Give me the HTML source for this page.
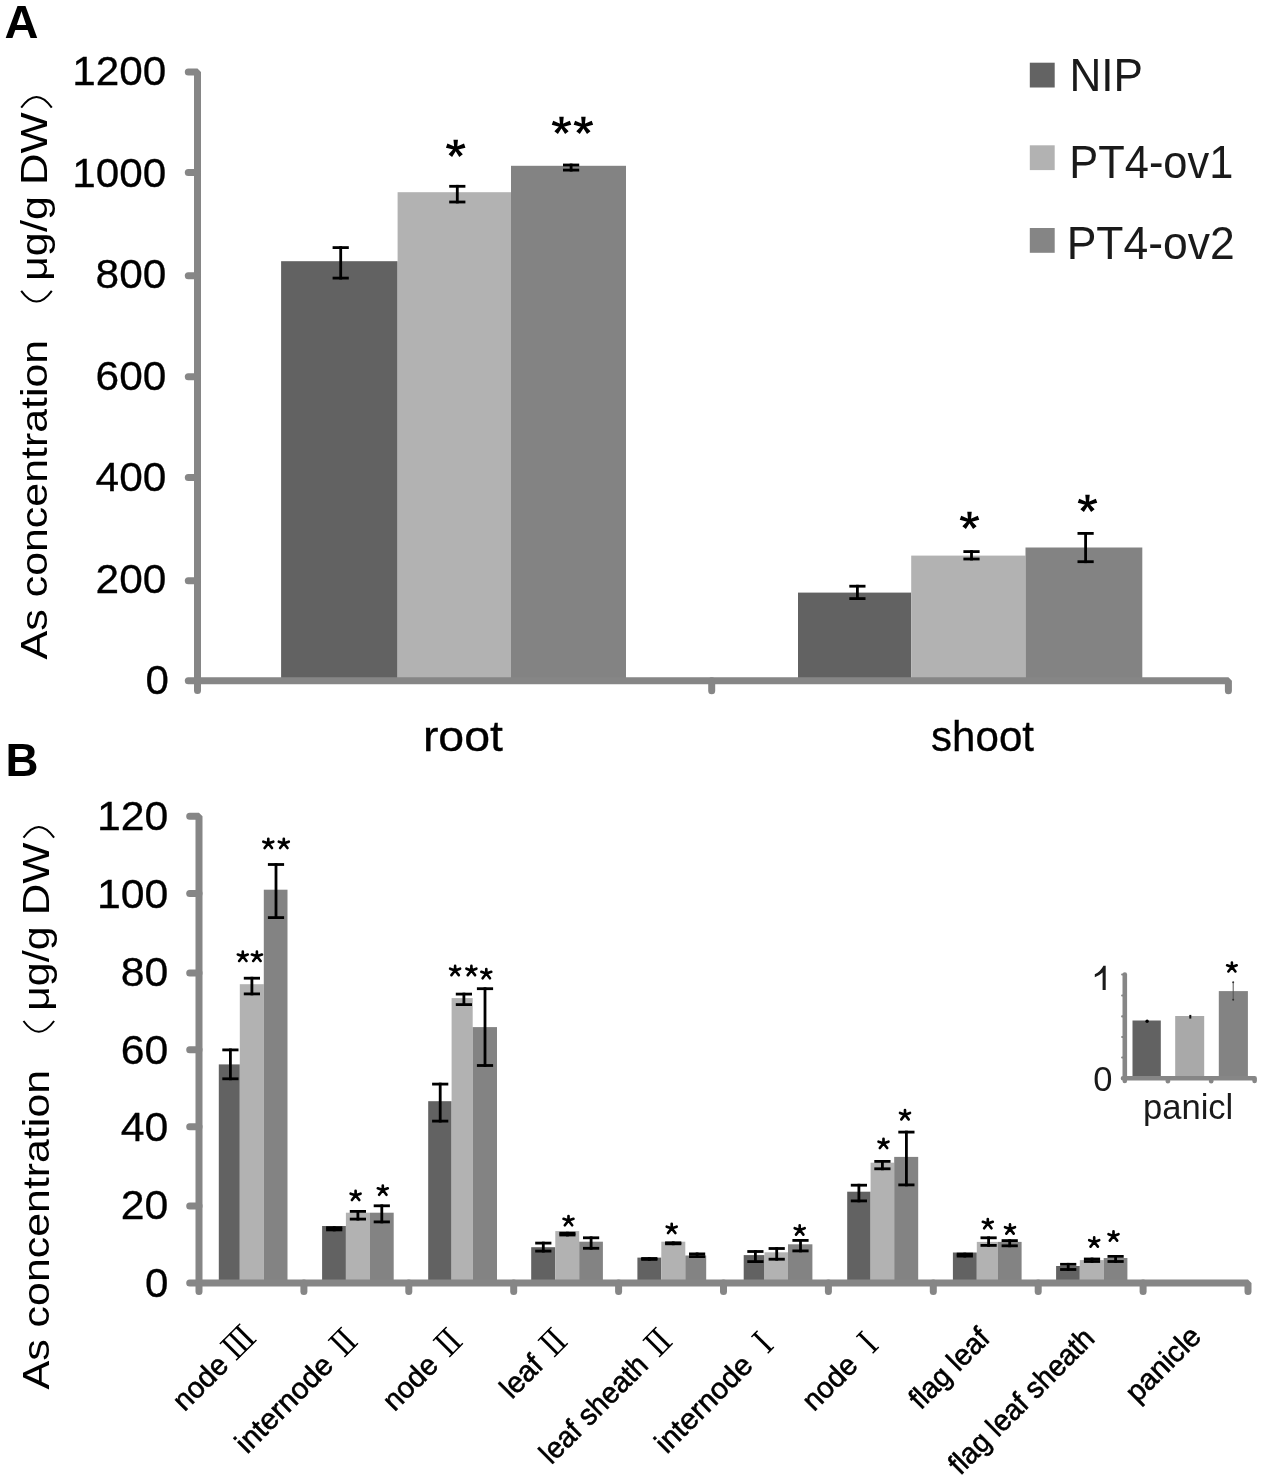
<!DOCTYPE html>
<html><head><meta charset="utf-8"><title>Figure</title>
<style>html,body{margin:0;padding:0;background:#fff}svg{display:block;filter:grayscale(1)}text{font-family:"Liberation Sans",sans-serif}</style></head><body>
<svg width="1266" height="1483" viewBox="0 0 1266 1483">
<rect width="1266" height="1483" fill="#fff"/>
<text x="4.5" y="37.9" font-size="46.5" fill="#000" textLength="34" lengthAdjust="spacingAndGlyphs" font-weight="bold">A</text>
<text x="5.5" y="776.3" font-size="46.5" fill="#000" textLength="33" lengthAdjust="spacingAndGlyphs" font-weight="bold">B</text>
<rect x="281.10" y="261.20" width="116.50" height="419.80" fill="#626262"/>
<rect x="397.60" y="192.20" width="113.40" height="488.80" fill="#b2b2b2"/>
<rect x="511.00" y="165.80" width="115.00" height="515.20" fill="#838383"/>
<rect x="798.00" y="592.60" width="113.20" height="88.40" fill="#626262"/>
<rect x="911.20" y="555.60" width="114.30" height="125.40" fill="#b2b2b2"/>
<rect x="1025.50" y="547.50" width="116.80" height="133.50" fill="#838383"/>
<g stroke="#868686" stroke-width="7" fill="none" stroke-linecap="round" stroke-linejoin="bevel">
<path d="M188.3 72 H197.5 V690.6"/>
<path d="M188.3 172.4 H197.5"/>
<path d="M188.3 275.8 H197.5"/>
<path d="M188.3 376.8 H197.5"/>
<path d="M188.3 477.5 H197.5"/>
<path d="M188.3 580.7 H197.5"/>
<path d="M188.3 680.8 H197.5"/>
<path d="M197.5 680.8 H1228.4 V690.7"/>
<path d="M711.7 680.8 V690.7"/>
</g>
<text x="166.3" y="85.4" font-size="41.3" fill="#000" text-anchor="end" textLength="94.0" lengthAdjust="spacingAndGlyphs" stroke="#000" stroke-width="0.3">1200</text>
<text x="166.3" y="186.9" font-size="41.3" fill="#000" text-anchor="end" textLength="94.0" lengthAdjust="spacingAndGlyphs" stroke="#000" stroke-width="0.3">1000</text>
<text x="166.3" y="288.4" font-size="41.3" fill="#000" text-anchor="end" textLength="70.7" lengthAdjust="spacingAndGlyphs" stroke="#000" stroke-width="0.3">800</text>
<text x="166.3" y="389.9" font-size="41.3" fill="#000" text-anchor="end" textLength="70.7" lengthAdjust="spacingAndGlyphs" stroke="#000" stroke-width="0.3">600</text>
<text x="166.3" y="491.4" font-size="41.3" fill="#000" text-anchor="end" textLength="70.7" lengthAdjust="spacingAndGlyphs" stroke="#000" stroke-width="0.3">400</text>
<text x="166.3" y="592.9" font-size="41.3" fill="#000" text-anchor="end" textLength="70.7" lengthAdjust="spacingAndGlyphs" stroke="#000" stroke-width="0.3">200</text>
<text x="169.0" y="694.4" font-size="41.3" fill="#000" text-anchor="end" textLength="23.4" lengthAdjust="spacingAndGlyphs" stroke="#000" stroke-width="0.3">0</text>
<rect x="332.60" y="246.20" width="16.20" height="2.80" fill="#000"/>
<rect x="332.60" y="276.70" width="16.20" height="2.80" fill="#000"/>
<rect x="339.30" y="246.20" width="2.80" height="33.30" fill="#000"/>
<rect x="449.20" y="184.90" width="16.20" height="2.80" fill="#000"/>
<rect x="449.20" y="200.60" width="16.20" height="2.80" fill="#000"/>
<rect x="455.90" y="184.90" width="2.80" height="18.50" fill="#000"/>
<rect x="563.00" y="163.60" width="16.20" height="2.80" fill="#000"/>
<rect x="563.00" y="168.70" width="16.20" height="2.80" fill="#000"/>
<rect x="569.70" y="163.60" width="2.80" height="7.90" fill="#000"/>
<rect x="849.30" y="584.80" width="16.20" height="2.80" fill="#000"/>
<rect x="849.30" y="597.20" width="16.20" height="2.80" fill="#000"/>
<rect x="856.00" y="584.80" width="2.80" height="15.20" fill="#000"/>
<rect x="963.40" y="550.20" width="16.20" height="2.80" fill="#000"/>
<rect x="963.40" y="557.60" width="16.20" height="2.80" fill="#000"/>
<rect x="970.10" y="550.20" width="2.80" height="10.20" fill="#000"/>
<rect x="1077.50" y="532.00" width="16.20" height="2.80" fill="#000"/>
<rect x="1077.50" y="560.30" width="16.20" height="2.80" fill="#000"/>
<rect x="1084.20" y="532.00" width="2.80" height="31.10" fill="#000"/>
<path d="M457.06 148.65L457.93 139.64L453.47 139.64L454.34 148.65ZM456.14 149.94L465.45 147.65L464.00 143.44L455.26 147.37ZM456.14 147.37L447.40 143.44L445.95 147.65L455.26 149.94ZM454.63 149.49L459.31 156.90L462.83 154.16L456.77 147.82ZM454.63 147.82L448.57 154.16L452.09 156.90L456.77 149.49Z" fill="#000"/><circle cx="455.70" cy="148.65" r="1.84" fill="#000"/>
<path d="M562.86 125.85L563.73 116.84L559.27 116.84L560.14 125.85ZM561.94 127.14L571.25 124.85L569.80 120.64L561.06 124.57ZM561.94 124.57L553.20 120.64L551.75 124.85L561.06 127.14ZM560.43 126.69L565.11 134.10L568.63 131.36L562.57 125.02ZM560.43 125.02L554.37 131.36L557.89 134.10L562.57 126.69Z" fill="#000"/><circle cx="561.50" cy="125.85" r="1.84" fill="#000"/>
<path d="M584.76 125.85L585.63 116.84L581.17 116.84L582.04 125.85ZM583.84 127.14L593.15 124.85L591.70 120.64L582.96 124.57ZM583.84 124.57L575.10 120.64L573.65 124.85L582.96 127.14ZM582.33 126.69L587.01 134.10L590.53 131.36L584.47 125.02ZM582.33 125.02L576.27 131.36L579.79 134.10L584.47 126.69Z" fill="#000"/><circle cx="583.40" cy="125.85" r="1.84" fill="#000"/>
<path d="M970.86 520.85L971.73 511.84L967.27 511.84L968.14 520.85ZM969.94 522.14L979.25 519.85L977.80 515.64L969.06 519.57ZM969.94 519.57L961.20 515.64L959.75 519.85L969.06 522.14ZM968.43 521.69L973.11 529.10L976.63 526.36L970.57 520.02ZM968.43 520.02L962.37 526.36L965.89 529.10L970.57 521.69Z" fill="#000"/><circle cx="969.50" cy="520.85" r="1.84" fill="#000"/>
<path d="M1088.86 503.85L1089.73 494.84L1085.27 494.84L1086.14 503.85ZM1087.94 505.14L1097.25 502.85L1095.80 498.64L1087.06 502.57ZM1087.94 502.57L1079.20 498.64L1077.75 502.85L1087.06 505.14ZM1086.43 504.69L1091.11 512.10L1094.63 509.36L1088.57 503.02ZM1086.43 503.02L1080.37 509.36L1083.89 512.10L1088.57 504.69Z" fill="#000"/><circle cx="1087.50" cy="503.85" r="1.84" fill="#000"/>
<text x="422.9" y="750.6" font-size="42" fill="#000" textLength="80" lengthAdjust="spacingAndGlyphs" stroke="#000" stroke-width="0.3">root</text>
<text x="931.1" y="750.6" font-size="42" fill="#000" textLength="102.9" lengthAdjust="spacingAndGlyphs" stroke="#000" stroke-width="0.3">shoot</text>
<rect x="1029.80" y="62.70" width="24.90" height="24.80" fill="#636363"/>
<text x="1069.5" y="91.0" font-size="45.3" fill="#231815" textLength="73.5" lengthAdjust="spacingAndGlyphs">NIP</text>
<rect x="1029.80" y="145.30" width="24.90" height="24.80" fill="#b2b2b2"/>
<text x="1069.3" y="177.6" font-size="45.3" fill="#231815" textLength="164" lengthAdjust="spacingAndGlyphs">PT4-ov1</text>
<rect x="1029.80" y="228.00" width="24.90" height="24.80" fill="#858585"/>
<text x="1066.7" y="259.3" font-size="45.3" fill="#231815" textLength="168" lengthAdjust="spacingAndGlyphs">PT4-ov2</text>
<text x="0" y="0" font-size="36.5" fill="#000" textLength="50.4" lengthAdjust="spacingAndGlyphs" transform="translate(46.7,659.5) rotate(-90)">As</text>
<text x="0" y="0" font-size="36.5" fill="#000" textLength="257.5" lengthAdjust="spacingAndGlyphs" transform="translate(46.7,597.3) rotate(-90)">concentration</text>
<text x="0" y="0" font-size="36.5" fill="#000" textLength="84.9" lengthAdjust="spacingAndGlyphs" transform="translate(46.7,281.0) rotate(-90)">μg/g</text>
<text x="0" y="0" font-size="36.5" fill="#000" textLength="72.7" lengthAdjust="spacingAndGlyphs" transform="translate(46.7,185.1) rotate(-90)">DW</text>
<path d="M21.2 290.9 Q36.5 312.3 51.8 290.9" stroke="#000" stroke-width="2" fill="none"/>
<path d="M21.2 107.6 Q36.5 86.2 51.8 107.6" stroke="#000" stroke-width="2" fill="none"/>
<text x="0" y="0" font-size="36.5" fill="#000" textLength="50.4" lengthAdjust="spacingAndGlyphs" transform="translate(49.0,1389.6) rotate(-90)">As</text>
<text x="0" y="0" font-size="36.5" fill="#000" textLength="257.5" lengthAdjust="spacingAndGlyphs" transform="translate(49.0,1327.4) rotate(-90)">concentration</text>
<text x="0" y="0" font-size="36.5" fill="#000" textLength="84.9" lengthAdjust="spacingAndGlyphs" transform="translate(49.0,1011.1) rotate(-90)">μg/g</text>
<text x="0" y="0" font-size="36.5" fill="#000" textLength="72.7" lengthAdjust="spacingAndGlyphs" transform="translate(49.0,915.2) rotate(-90)">DW</text>
<path d="M23.5 1021.0 Q38.8 1042.4 54.099999999999994 1021.0" stroke="#000" stroke-width="2" fill="none"/>
<path d="M23.5 837.7 Q38.8 816.3000000000001 54.099999999999994 837.7" stroke="#000" stroke-width="2" fill="none"/>
<rect x="218.80" y="1064.40" width="21.00" height="218.60" fill="#626262"/>
<rect x="239.80" y="984.20" width="24.00" height="298.80" fill="#b2b2b2"/>
<rect x="263.80" y="889.70" width="23.70" height="393.30" fill="#838383"/>
<rect x="322.10" y="1226.00" width="23.80" height="57.00" fill="#626262"/>
<rect x="345.90" y="1212.70" width="24.10" height="70.30" fill="#b2b2b2"/>
<rect x="370.00" y="1212.70" width="23.70" height="70.30" fill="#838383"/>
<rect x="428.20" y="1101.20" width="23.40" height="181.80" fill="#626262"/>
<rect x="451.60" y="998.10" width="21.10" height="284.90" fill="#b2b2b2"/>
<rect x="472.70" y="1027.10" width="24.30" height="255.90" fill="#838383"/>
<rect x="531.20" y="1247.20" width="24.10" height="35.80" fill="#626262"/>
<rect x="555.30" y="1231.10" width="23.90" height="51.90" fill="#b2b2b2"/>
<rect x="579.20" y="1241.70" width="23.70" height="41.30" fill="#838383"/>
<rect x="637.40" y="1257.60" width="23.90" height="25.40" fill="#626262"/>
<rect x="661.30" y="1241.70" width="24.00" height="41.30" fill="#b2b2b2"/>
<rect x="685.30" y="1255.50" width="20.90" height="27.50" fill="#838383"/>
<rect x="743.70" y="1255.10" width="20.80" height="27.90" fill="#626262"/>
<rect x="764.50" y="1252.30" width="23.50" height="30.70" fill="#b2b2b2"/>
<rect x="788.00" y="1244.30" width="24.40" height="38.70" fill="#838383"/>
<rect x="847.20" y="1191.70" width="23.40" height="91.30" fill="#626262"/>
<rect x="870.60" y="1162.70" width="23.60" height="120.30" fill="#b2b2b2"/>
<rect x="894.20" y="1156.90" width="24.00" height="126.10" fill="#838383"/>
<rect x="952.90" y="1252.50" width="23.90" height="30.50" fill="#626262"/>
<rect x="976.80" y="1241.90" width="21.20" height="41.10" fill="#b2b2b2"/>
<rect x="998.00" y="1241.90" width="23.60" height="41.10" fill="#838383"/>
<rect x="1056.10" y="1266.00" width="23.70" height="17.00" fill="#626262"/>
<rect x="1079.80" y="1260.10" width="23.90" height="22.90" fill="#b2b2b2"/>
<rect x="1103.70" y="1258.00" width="23.70" height="25.00" fill="#838383"/>
<g stroke="#868686" stroke-width="7" fill="none" stroke-linecap="round" stroke-linejoin="bevel">
<path d="M189.7 816.2 H199 V1291.5"/>
<path d="M189.7 893.4 H199"/>
<path d="M189.7 973.1 H199"/>
<path d="M189.7 1049.8 H199"/>
<path d="M189.7 1126.7 H199"/>
<path d="M189.7 1206.1 H199"/>
<path d="M189.7 1282.9 H199"/>
<path d="M199 1282.9 H1248 V1291.5"/>
<path d="M303.9 1282.9 V1291.5"/>
<path d="M408.8 1282.9 V1291.5"/>
<path d="M513.7 1282.9 V1291.5"/>
<path d="M618.6 1282.9 V1291.5"/>
<path d="M723.5 1282.9 V1291.5"/>
<path d="M828.4 1282.9 V1291.5"/>
<path d="M933.3 1282.9 V1291.5"/>
<path d="M1038.2 1282.9 V1291.5"/>
<path d="M1143.1 1282.9 V1291.5"/>
</g>
<text x="168.3" y="830.3" font-size="41.3" fill="#000" text-anchor="end" textLength="71.4" lengthAdjust="spacingAndGlyphs" stroke="#000" stroke-width="0.3">120</text>
<text x="168.3" y="908.05" font-size="41.3" fill="#000" text-anchor="end" textLength="71.4" lengthAdjust="spacingAndGlyphs" stroke="#000" stroke-width="0.3">100</text>
<text x="168.3" y="985.8" font-size="41.3" fill="#000" text-anchor="end" textLength="47.6" lengthAdjust="spacingAndGlyphs" stroke="#000" stroke-width="0.3">80</text>
<text x="168.3" y="1063.55" font-size="41.3" fill="#000" text-anchor="end" textLength="47.6" lengthAdjust="spacingAndGlyphs" stroke="#000" stroke-width="0.3">60</text>
<text x="168.3" y="1141.3" font-size="41.3" fill="#000" text-anchor="end" textLength="47.6" lengthAdjust="spacingAndGlyphs" stroke="#000" stroke-width="0.3">40</text>
<text x="168.3" y="1219.05" font-size="41.3" fill="#000" text-anchor="end" textLength="47.6" lengthAdjust="spacingAndGlyphs" stroke="#000" stroke-width="0.3">20</text>
<text x="168.3" y="1296.8" font-size="41.3" fill="#000" text-anchor="end" textLength="23.4" lengthAdjust="spacingAndGlyphs" stroke="#000" stroke-width="0.3">0</text>
<rect x="222.30" y="1048.50" width="16.20" height="2.80" fill="#000"/>
<rect x="222.30" y="1077.40" width="16.20" height="2.80" fill="#000"/>
<rect x="229.00" y="1048.50" width="2.80" height="31.70" fill="#000"/>
<rect x="243.80" y="976.80" width="16.20" height="2.80" fill="#000"/>
<rect x="243.80" y="992.50" width="16.20" height="2.80" fill="#000"/>
<rect x="250.50" y="976.80" width="2.80" height="18.50" fill="#000"/>
<rect x="267.90" y="863.10" width="16.20" height="2.80" fill="#000"/>
<rect x="267.90" y="916.20" width="16.20" height="2.80" fill="#000"/>
<rect x="274.60" y="863.10" width="2.80" height="55.90" fill="#000"/>
<rect x="326.10" y="1226.30" width="16.20" height="2.80" fill="#000"/>
<rect x="326.10" y="1228.50" width="16.20" height="2.80" fill="#000"/>
<rect x="332.80" y="1226.30" width="2.80" height="5.00" fill="#000"/>
<rect x="349.80" y="1210.00" width="16.20" height="2.80" fill="#000"/>
<rect x="349.80" y="1217.70" width="16.20" height="2.80" fill="#000"/>
<rect x="356.50" y="1210.00" width="2.80" height="10.50" fill="#000"/>
<rect x="373.70" y="1204.40" width="16.20" height="2.80" fill="#000"/>
<rect x="373.70" y="1220.50" width="16.20" height="2.80" fill="#000"/>
<rect x="380.40" y="1204.40" width="2.80" height="18.90" fill="#000"/>
<rect x="432.10" y="1082.70" width="16.20" height="2.80" fill="#000"/>
<rect x="432.10" y="1119.70" width="16.20" height="2.80" fill="#000"/>
<rect x="438.80" y="1082.70" width="2.80" height="39.80" fill="#000"/>
<rect x="455.80" y="992.70" width="16.20" height="2.80" fill="#000"/>
<rect x="455.80" y="1003.20" width="16.20" height="2.80" fill="#000"/>
<rect x="462.50" y="992.70" width="2.80" height="13.30" fill="#000"/>
<rect x="476.90" y="987.30" width="16.20" height="2.80" fill="#000"/>
<rect x="476.90" y="1064.10" width="16.20" height="2.80" fill="#000"/>
<rect x="483.60" y="987.30" width="2.80" height="79.60" fill="#000"/>
<rect x="535.20" y="1241.70" width="16.20" height="2.80" fill="#000"/>
<rect x="535.20" y="1249.70" width="16.20" height="2.80" fill="#000"/>
<rect x="541.90" y="1241.70" width="2.80" height="10.80" fill="#000"/>
<rect x="559.30" y="1231.80" width="16.20" height="2.80" fill="#000"/>
<rect x="559.30" y="1233.60" width="16.20" height="2.80" fill="#000"/>
<rect x="566.00" y="1231.80" width="2.80" height="4.60" fill="#000"/>
<rect x="583.00" y="1236.40" width="16.20" height="2.80" fill="#000"/>
<rect x="583.00" y="1246.90" width="16.20" height="2.80" fill="#000"/>
<rect x="589.70" y="1236.40" width="2.80" height="13.30" fill="#000"/>
<rect x="641.20" y="1257.10" width="16.20" height="2.80" fill="#000"/>
<rect x="641.20" y="1258.00" width="16.20" height="2.80" fill="#000"/>
<rect x="647.90" y="1257.10" width="2.80" height="3.70" fill="#000"/>
<rect x="665.10" y="1241.40" width="16.20" height="2.80" fill="#000"/>
<rect x="665.10" y="1242.40" width="16.20" height="2.80" fill="#000"/>
<rect x="671.80" y="1241.40" width="2.80" height="3.80" fill="#000"/>
<rect x="689.00" y="1252.50" width="16.20" height="2.80" fill="#000"/>
<rect x="689.00" y="1255.20" width="16.20" height="2.80" fill="#000"/>
<rect x="695.70" y="1252.50" width="2.80" height="5.50" fill="#000"/>
<rect x="747.30" y="1250.10" width="16.20" height="2.80" fill="#000"/>
<rect x="747.30" y="1260.20" width="16.20" height="2.80" fill="#000"/>
<rect x="754.00" y="1250.10" width="2.80" height="12.90" fill="#000"/>
<rect x="768.60" y="1247.10" width="16.20" height="2.80" fill="#000"/>
<rect x="768.60" y="1257.80" width="16.20" height="2.80" fill="#000"/>
<rect x="775.30" y="1247.10" width="2.80" height="13.50" fill="#000"/>
<rect x="792.40" y="1239.00" width="16.20" height="2.80" fill="#000"/>
<rect x="792.40" y="1249.50" width="16.20" height="2.80" fill="#000"/>
<rect x="799.10" y="1239.00" width="2.80" height="13.30" fill="#000"/>
<rect x="850.80" y="1183.80" width="16.20" height="2.80" fill="#000"/>
<rect x="850.80" y="1199.50" width="16.20" height="2.80" fill="#000"/>
<rect x="857.50" y="1183.80" width="2.80" height="18.50" fill="#000"/>
<rect x="874.30" y="1160.00" width="16.20" height="2.80" fill="#000"/>
<rect x="874.30" y="1167.40" width="16.20" height="2.80" fill="#000"/>
<rect x="881.00" y="1160.00" width="2.80" height="10.20" fill="#000"/>
<rect x="898.30" y="1130.70" width="16.20" height="2.80" fill="#000"/>
<rect x="898.30" y="1183.50" width="16.20" height="2.80" fill="#000"/>
<rect x="905.00" y="1130.70" width="2.80" height="55.60" fill="#000"/>
<rect x="956.70" y="1252.70" width="16.20" height="2.80" fill="#000"/>
<rect x="956.70" y="1254.70" width="16.20" height="2.80" fill="#000"/>
<rect x="963.40" y="1252.70" width="2.80" height="4.80" fill="#000"/>
<rect x="980.50" y="1236.40" width="16.20" height="2.80" fill="#000"/>
<rect x="980.50" y="1244.00" width="16.20" height="2.80" fill="#000"/>
<rect x="987.20" y="1236.40" width="2.80" height="10.40" fill="#000"/>
<rect x="1001.60" y="1239.20" width="16.20" height="2.80" fill="#000"/>
<rect x="1001.60" y="1244.40" width="16.20" height="2.80" fill="#000"/>
<rect x="1008.30" y="1239.20" width="2.80" height="8.00" fill="#000"/>
<rect x="1060.10" y="1262.90" width="16.20" height="2.80" fill="#000"/>
<rect x="1060.10" y="1268.10" width="16.20" height="2.80" fill="#000"/>
<rect x="1066.80" y="1262.90" width="2.80" height="8.00" fill="#000"/>
<rect x="1083.90" y="1257.60" width="16.20" height="2.80" fill="#000"/>
<rect x="1083.90" y="1260.10" width="16.20" height="2.80" fill="#000"/>
<rect x="1090.60" y="1257.60" width="2.80" height="5.30" fill="#000"/>
<rect x="1107.50" y="1255.00" width="16.20" height="2.80" fill="#000"/>
<rect x="1107.50" y="1260.10" width="16.20" height="2.80" fill="#000"/>
<rect x="1114.20" y="1255.00" width="2.80" height="7.90" fill="#000"/>
<path d="M242.80 956.25L242.80 951.68M242.80 956.25L247.78 954.54M242.80 956.25L237.82 954.54M242.80 956.25L246.47 960.95M242.80 956.25L239.13 960.95" stroke="#000" stroke-width="2.66" stroke-linecap="round" fill="none"/>
<path d="M256.90 956.25L256.90 951.68M256.90 956.25L261.88 954.54M256.90 956.25L251.92 954.54M256.90 956.25L260.57 960.95M256.90 956.25L253.23 960.95" stroke="#000" stroke-width="2.66" stroke-linecap="round" fill="none"/>
<path d="M268.30 843.35L268.30 838.78M268.30 843.35L273.28 841.64M268.30 843.35L263.32 841.64M268.30 843.35L271.97 848.05M268.30 843.35L264.63 848.05" stroke="#000" stroke-width="2.66" stroke-linecap="round" fill="none"/>
<path d="M283.80 843.35L283.80 838.78M283.80 843.35L288.78 841.64M283.80 843.35L278.82 841.64M283.80 843.35L287.47 848.05M283.80 843.35L280.13 848.05" stroke="#000" stroke-width="2.66" stroke-linecap="round" fill="none"/>
<path d="M355.60 1195.35L355.60 1190.78M355.60 1195.35L360.58 1193.64M355.60 1195.35L350.62 1193.64M355.60 1195.35L359.27 1200.05M355.60 1195.35L351.93 1200.05" stroke="#000" stroke-width="2.66" stroke-linecap="round" fill="none"/>
<path d="M382.80 1190.05L382.80 1185.48M382.80 1190.05L387.78 1188.34M382.80 1190.05L377.82 1188.34M382.80 1190.05L386.47 1194.75M382.80 1190.05L379.13 1194.75" stroke="#000" stroke-width="2.66" stroke-linecap="round" fill="none"/>
<path d="M455.10 970.45L455.10 965.88M455.10 970.45L460.08 968.74M455.10 970.45L450.12 968.74M455.10 970.45L458.77 975.15M455.10 970.45L451.43 975.15" stroke="#000" stroke-width="2.66" stroke-linecap="round" fill="none"/>
<path d="M471.40 970.45L471.40 965.88M471.40 970.45L476.38 968.74M471.40 970.45L466.42 968.74M471.40 970.45L475.07 975.15M471.40 970.45L467.73 975.15" stroke="#000" stroke-width="2.66" stroke-linecap="round" fill="none"/>
<path d="M486.30 973.55L486.30 968.98M486.30 973.55L491.28 971.84M486.30 973.55L481.32 971.84M486.30 973.55L489.97 978.25M486.30 973.55L482.63 978.25" stroke="#000" stroke-width="2.66" stroke-linecap="round" fill="none"/>
<path d="M568.50 1220.55L568.50 1215.98M568.50 1220.55L573.48 1218.84M568.50 1220.55L563.52 1218.84M568.50 1220.55L572.17 1225.25M568.50 1220.55L564.83 1225.25" stroke="#000" stroke-width="2.66" stroke-linecap="round" fill="none"/>
<path d="M671.70 1228.35L671.70 1223.78M671.70 1228.35L676.68 1226.64M671.70 1228.35L666.72 1226.64M671.70 1228.35L675.37 1233.05M671.70 1228.35L668.03 1233.05" stroke="#000" stroke-width="2.66" stroke-linecap="round" fill="none"/>
<path d="M799.70 1229.95L799.70 1225.38M799.70 1229.95L804.68 1228.24M799.70 1229.95L794.72 1228.24M799.70 1229.95L803.37 1234.65M799.70 1229.95L796.03 1234.65" stroke="#000" stroke-width="2.66" stroke-linecap="round" fill="none"/>
<path d="M883.50 1143.35L883.50 1138.78M883.50 1143.35L888.48 1141.64M883.50 1143.35L878.52 1141.64M883.50 1143.35L887.17 1148.05M883.50 1143.35L879.83 1148.05" stroke="#000" stroke-width="2.66" stroke-linecap="round" fill="none"/>
<path d="M905.00 1114.65L905.00 1110.08M905.00 1114.65L909.98 1112.94M905.00 1114.65L900.02 1112.94M905.00 1114.65L908.67 1119.35M905.00 1114.65L901.33 1119.35" stroke="#000" stroke-width="2.66" stroke-linecap="round" fill="none"/>
<path d="M987.80 1223.55L987.80 1218.98M987.80 1223.55L992.78 1221.84M987.80 1223.55L982.82 1221.84M987.80 1223.55L991.47 1228.25M987.80 1223.55L984.13 1228.25" stroke="#000" stroke-width="2.66" stroke-linecap="round" fill="none"/>
<path d="M1010.00 1228.95L1010.00 1224.38M1010.00 1228.95L1014.98 1227.24M1010.00 1228.95L1005.02 1227.24M1010.00 1228.95L1013.67 1233.65M1010.00 1228.95L1006.33 1233.65" stroke="#000" stroke-width="2.66" stroke-linecap="round" fill="none"/>
<path d="M1094.20 1241.95L1094.20 1237.38M1094.20 1241.95L1099.18 1240.24M1094.20 1241.95L1089.22 1240.24M1094.20 1241.95L1097.87 1246.65M1094.20 1241.95L1090.53 1246.65" stroke="#000" stroke-width="2.66" stroke-linecap="round" fill="none"/>
<path d="M1113.50 1235.95L1113.50 1231.38M1113.50 1235.95L1118.48 1234.24M1113.50 1235.95L1108.52 1234.24M1113.50 1235.95L1117.17 1240.65M1113.50 1235.95L1109.83 1240.65" stroke="#000" stroke-width="2.66" stroke-linecap="round" fill="none"/>
<g transform="translate(184.59,1412.36) rotate(-45)">
<text x="0" y="0" font-size="29.5" fill="#000" textLength="64.3" lengthAdjust="spacingAndGlyphs" stroke="#000" stroke-width="0.6">node</text>
<path d="M73.22 -23.40H102.05M73.22 -0.4H102.05" stroke="#000" stroke-width="1.45" fill="none"/><rect x="76.57" y="-24.00" width="2.9" height="24.00" fill="#000"/><rect x="86.18" y="-24.00" width="2.9" height="24.00" fill="#000"/><rect x="95.79" y="-24.00" width="2.9" height="24.00" fill="#000"/>
</g>
<g transform="translate(247.05,1454.80) rotate(-45)">
<text x="0" y="0" font-size="29.5" fill="#000" textLength="124.3" lengthAdjust="spacingAndGlyphs" stroke="#000" stroke-width="0.6">internode</text>
<path d="M138.04 -23.40H157.26M138.04 -0.4H157.26" stroke="#000" stroke-width="1.45" fill="none"/><rect x="141.24" y="-24.00" width="2.9" height="24.00" fill="#000"/><rect x="151.16" y="-24.00" width="2.9" height="24.00" fill="#000"/>
</g>
<g transform="translate(394.39,1412.36) rotate(-45)">
<text x="0" y="0" font-size="29.5" fill="#000" textLength="64.3" lengthAdjust="spacingAndGlyphs" stroke="#000" stroke-width="0.6">node</text>
<path d="M78.02 -23.40H97.24M78.02 -0.4H97.24" stroke="#000" stroke-width="1.45" fill="none"/><rect x="81.22" y="-24.00" width="2.9" height="24.00" fill="#000"/><rect x="91.14" y="-24.00" width="2.9" height="24.00" fill="#000"/>
</g>
<g transform="translate(511.65,1400.00) rotate(-45)">
<text x="0" y="0" font-size="29.5" fill="#000" textLength="46.8" lengthAdjust="spacingAndGlyphs" stroke="#000" stroke-width="0.6">leaf</text>
<path d="M60.54 -23.40H79.76M60.54 -0.4H79.76" stroke="#000" stroke-width="1.45" fill="none"/><rect x="63.74" y="-24.00" width="2.9" height="24.00" fill="#000"/><rect x="73.66" y="-24.00" width="2.9" height="24.00" fill="#000"/>
</g>
<g transform="translate(551.25,1465.30) rotate(-45)">
<text x="0" y="0" font-size="29.5" fill="#000" textLength="139.2" lengthAdjust="spacingAndGlyphs" stroke="#000" stroke-width="0.6">leaf sheath</text>
<path d="M152.89 -23.40H172.11M152.89 -0.4H172.11" stroke="#000" stroke-width="1.45" fill="none"/><rect x="156.09" y="-24.00" width="2.9" height="24.00" fill="#000"/><rect x="166.01" y="-24.00" width="2.9" height="24.00" fill="#000"/>
</g>
<g transform="translate(666.65,1454.80) rotate(-45)">
<text x="0" y="0" font-size="29.5" fill="#000" textLength="124.3" lengthAdjust="spacingAndGlyphs" stroke="#000" stroke-width="0.6">internode</text>
<path d="M143.31 -23.40H151.99M143.31 -0.4H151.99" stroke="#000" stroke-width="1.45" fill="none"/><rect x="146.20" y="-24.00" width="2.9" height="24.00" fill="#000"/>
</g>
<g transform="translate(813.99,1412.36) rotate(-45)">
<text x="0" y="0" font-size="29.5" fill="#000" textLength="64.3" lengthAdjust="spacingAndGlyphs" stroke="#000" stroke-width="0.6">node</text>
<path d="M83.29 -23.40H91.97M83.29 -0.4H91.97" stroke="#000" stroke-width="1.45" fill="none"/><rect x="86.18" y="-24.00" width="2.9" height="24.00" fill="#000"/>
</g>
<g transform="translate(920.64,1410.61) rotate(-45)">
<text x="0" y="0" font-size="29.5" fill="#000" textLength="99.9" lengthAdjust="spacingAndGlyphs" stroke="#000" stroke-width="0.6">flag leaf</text>
</g>
<g transform="translate(960.24,1475.91) rotate(-45)">
<text x="0" y="0" font-size="29.5" fill="#000" textLength="192.2" lengthAdjust="spacingAndGlyphs" stroke="#000" stroke-width="0.6">flag leaf sheath</text>
</g>
<g transform="translate(1137.31,1403.74) rotate(-45)">
<text x="0" y="0" font-size="29.5" fill="#000" textLength="92.6" lengthAdjust="spacingAndGlyphs" stroke="#000" stroke-width="0.6">panicle</text>
</g>
<rect x="1132.50" y="1020.50" width="28.30" height="57.50" fill="#626262"/>
<rect x="1175.20" y="1016.00" width="29.00" height="62.00" fill="#a9a9a9"/>
<rect x="1218.80" y="991.10" width="29.10" height="86.90" fill="#838383"/>
<g stroke="#868686" stroke-width="4.6" fill="none" stroke-linecap="round" stroke-linejoin="round">
<path d="M1124.8 974.5 V1081"/><path d="M1123 1078.3 H1254.6 V1081"/>
<path d="M1167.9 1078.3 V1081.3"/>
<path d="M1211.2 1078.3 V1081.3"/>
</g>
<g stroke="#868686" stroke-width="2.2" stroke-linecap="round">
<path d="M1122.2 974.5 H1124"/>
<path d="M1122.2 995.5 H1124"/>
<path d="M1122.2 1016.4 H1124"/>
<path d="M1122.2 1037.0 H1124"/>
<path d="M1122.2 1057.5 H1124"/>
<path d="M1122.2 1078.3 H1124"/>
</g>
<path d="M1102.6 990 V972.6 Q1099.5 975.6 1094.8 977.3 V974.3 Q1100.6 971.6 1103.4 965.8 H1105.7 V990 Z" fill="#231815"/>
<text x="1093.3" y="1091.0" font-size="35.3" fill="#231815" textLength="19.2" lengthAdjust="spacingAndGlyphs">0</text>
<text x="1143.0" y="1119.2" font-size="35.2" fill="#231815" textLength="90.3" lengthAdjust="spacingAndGlyphs">panicl</text>
<circle cx="1147.1" cy="1021.2" r="1.7" fill="#000"/>
<rect x="1189.30" y="1014.90" width="2.00" height="3.70" fill="#111"/>
<path d="M1233.2 982 V1000" stroke="#555" stroke-width="1"/>
<circle cx="1233.2" cy="982.3" r="1" fill="#333"/><circle cx="1233.2" cy="999.8" r="1" fill="#333"/>
<path d="M1231.90 966.96L1231.90 962.53M1231.90 966.96L1236.72 965.30M1231.90 966.96L1227.08 965.30M1231.90 966.96L1235.45 971.51M1231.90 966.96L1228.35 971.51" stroke="#000" stroke-width="2.57" stroke-linecap="round" fill="none"/>
</svg></body></html>
